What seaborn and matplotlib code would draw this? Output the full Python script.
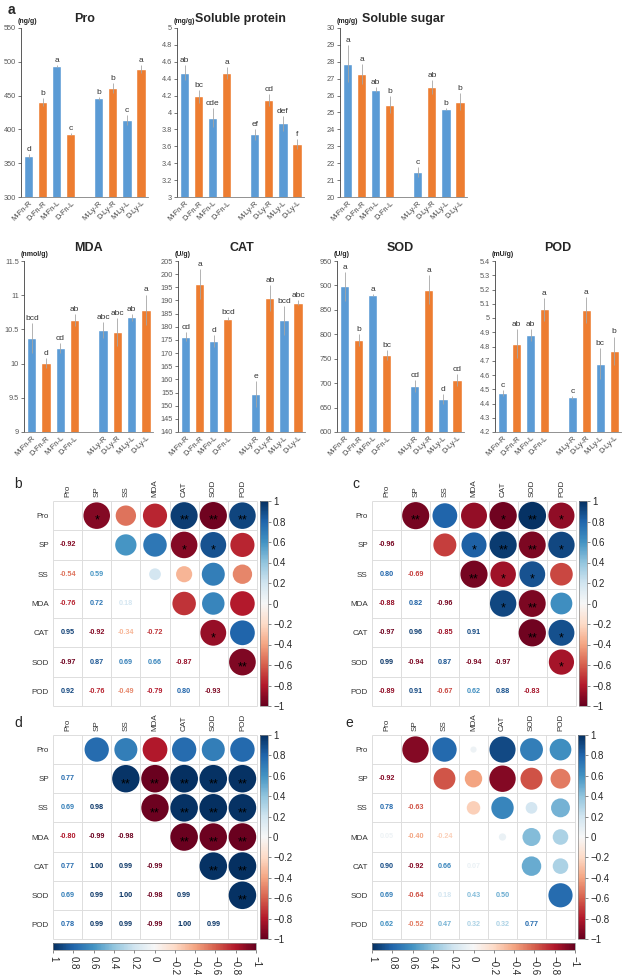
import numpy as np
import pandas as pd
import matplotlib
matplotlib.use("Agg")
import matplotlib.pyplot as plt
from matplotlib.colors import Normalize
from matplotlib.cm import ScalarMappable
import seaborn as sns

# ---------------- panel a: bar charts ----------------
groups = ["M-Fn-R", "D-Fn-R", "M-Fn-L", "D-Fn-L", "M-Ly-R", "D-Ly-R", "M-Ly-L", "D-Ly-L"]
treat = ["M", "D", "M", "D", "M", "D", "M", "D"]
slots = groups[:4] + [""] + groups[4:]

pro_mean = [360, 441, 494, 393, 446, 461, 414, 489]
pro_err = [3, 6, 1, 2, 2, 7, 8, 6]
pro_sig = ["d", "b", "a", "c", "b", "b", "c", "a"]

sp_mean = [4.47, 4.19, 3.94, 4.47, 3.74, 4.15, 3.87, 3.63]
sp_err = [0.09, 0.08, 0.11, 0.07, 0.07, 0.07, 0.09, 0.06]
sp_sig = ["ab", "bc", "cde", "a", "ef", "cd", "def", "f"]

ss_mean = [27.88, 27.28, 26.35, 25.46, 21.47, 26.5, 25.2, 25.63]
ss_err = [1.1, 0.6, 0.15, 0.5, 0.3, 0.4, 0.05, 0.5]
ss_sig = ["a", "a", "ab", "b", "c", "ab", "b", "b"]

mda_mean = [10.37, 10.01, 10.23, 10.64, 10.49, 10.46, 10.68, 10.79]
mda_err = [0.22, 0.07, 0.07, 0.09, 0.12, 0.2, 0.05, 0.22]
mda_sig = ["bcd", "d", "cd", "ab", "abc", "abc", "ab", "a"]

cat_mean = [176.3, 196.2, 174.6, 183.0, 154.3, 191.0, 182.4, 189.2]
cat_err = [1.6, 5.8, 2.2, 0.6, 4.9, 5.0, 5.5, 1.0]
cat_sig = ["cd", "a", "d", "bcd", "e", "ab", "bcd", "abc"]

sod_mean = [898, 789, 881, 757, 694, 891, 668, 706]
sod_err = [30, 12, 2, 10, 12, 30, 10, 12]
sod_sig = ["a", "b", "a", "bc", "cd", "a", "d", "cd"]

pod_mean = [4.475, 4.82, 4.88, 5.06, 4.445, 5.055, 4.68, 4.77]
pod_err = [0.02, 0.1, 0.04, 0.08, 0.01, 0.09, 0.11, 0.1]
pod_sig = ["c", "ab", "ab", "a", "c", "a", "bc", "b"]

bar_colors = {"M": "#5B9BD5", "D": "#ED7D31"}

# ---------------- panels b-e: correlations ----------------
variables = ["Pro", "SP", "SS", "MDA", "CAT", "SOD", "POD"]

corr_b = [
    [-0.92],
    [-0.54, 0.59],
    [-0.76, 0.72, 0.18],
    [0.95, -0.92, -0.34, -0.72],
    [-0.97, 0.87, 0.69, 0.66, -0.87],
    [0.92, -0.76, -0.49, -0.79, 0.80, -0.93],
]
stars_b = {(0, 1): "*", (0, 4): "**", (0, 5): "**", (0, 6): "**",
           (1, 4): "*", (1, 5): "*", (4, 5): "*", (5, 6): "**"}

corr_c = [
    [-0.96],
    [0.80, -0.69],
    [-0.88, 0.82, -0.96],
    [-0.97, 0.96, -0.85, 0.91],
    [0.99, -0.94, 0.87, -0.94, -0.97],
    [-0.89, 0.91, -0.67, 0.62, 0.88, -0.83],
]
stars_c = {(0, 1): "**", (0, 4): "*", (0, 5): "**", (0, 6): "*",
           (1, 3): "*", (1, 4): "**", (1, 5): "**", (1, 6): "*",
           (2, 3): "**", (2, 4): "*", (2, 5): "*",
           (3, 4): "*", (3, 5): "**", (4, 5): "**", (4, 6): "*", (5, 6): "*"}

corr_d = [
    [0.77],
    [0.69, 0.98],
    [-0.80, -0.99, -0.98],
    [0.77, 1.00, 0.99, -0.99],
    [0.69, 0.99, 1.00, -0.98, 0.99],
    [0.78, 0.99, 0.99, -0.99, 1.00, 0.99],
]
stars_d = {(i, j): "**" for i in range(1, 7) for j in range(i + 1, 7)}

corr_e = [
    [-0.92],
    [0.78, -0.63],
    [0.05, -0.40, -0.24],
    [0.90, -0.92, 0.66, 0.07],
    [0.69, -0.64, 0.18, 0.43, 0.50],
    [0.62, -0.52, 0.47, 0.32, 0.32, 0.77],
]
stars_e = {}

sns.set_style("ticks")
plt.rcParams["font.family"] = ["Liberation Sans", "DejaVu Sans"]

W, H = 627, 977
fig = plt.figure(figsize=(W / 100, H / 100), dpi=100)


def px_axes(left, top, right, bottom):
    return fig.add_axes([left / W, 1 - bottom / H, (right - left) / W, (bottom - top) / H])


def draw_bars(ax, mean, err, sig, title, unit, yticks, title_pad):
    df = pd.DataFrame({"group": groups, "value": mean, "treat": treat})
    sns.barplot(data=df, x="group", y="value", hue="treat", order=slots,
                hue_order=["M", "D"], palette=bar_colors, dodge=False,
                width=0.65, errorbar=None, legend=False, saturation=1, ax=ax)
    xs = [slots.index(g) for g in groups]
    ax.errorbar(xs, mean, yerr=err, fmt="none", ecolor="#A6A6A6",
                elinewidth=0.6, capsize=0)
    span = yticks[-1] - yticks[0]
    for x, m, e, s in zip(xs, mean, err, sig):
        ax.text(x, m + e + span * 0.006, s, ha="center", va="bottom",
                fontsize=6, color="#333333")
    ax.set_ylim(yticks[0], yticks[-1])
    ax.set_yticks(yticks)
    ax.set_yticklabels([f"{t:g}" for t in yticks])
    ax.set_xlim(-0.55, len(slots) - 0.5)
    ax.set_xlabel("")
    ax.set_ylabel("")
    sns.despine(ax=ax)
    ax.spines["left"].set_color("#404040")
    ax.spines["left"].set_linewidth(0.6)
    ax.spines["bottom"].set_color("#808080")
    ax.spines["bottom"].set_linewidth(0.6)
    ax.tick_params(axis="y", labelsize=5.3, length=2, width=0.5,
                   color="#404040", labelcolor="#595959", pad=1.5)
    ax.tick_params(axis="x", labelsize=5.3, length=0, labelcolor="#404040", pad=2)
    plt.setp(ax.get_xticklabels(), rotation=45, ha="right", rotation_mode="anchor")
    ax.set_title(title, fontsize=9, fontweight="bold", pad=title_pad)
    ax.text(-0.03, 1.015, unit, transform=ax.transAxes, fontsize=5,
            fontweight="bold", ha="left", va="bottom", color="#222222")


top = (28, 197)
mid = (261, 432)
draw_bars(px_axes(21, top[0], 148, top[1]), pro_mean, pro_err, pro_sig, "Pro", "(ng/g)",
          np.arange(300, 551, 50), 4)
draw_bars(px_axes(177, top[0], 304, top[1]), sp_mean, sp_err, sp_sig, "Soluble protein", "(mg/g)",
          np.round(np.arange(3, 5.01, 0.2), 1), 4)
draw_bars(px_axes(340, top[0], 467, top[1]), ss_mean, ss_err, ss_sig, "Soluble sugar", "(mg/g)",
          np.arange(20, 31, 1), 4)
draw_bars(px_axes(24, mid[0], 153, mid[1]), mda_mean, mda_err, mda_sig, "MDA", "(nmol/g)",
          np.arange(9, 11.51, 0.5), 7)
draw_bars(px_axes(178, mid[0], 305, mid[1]), cat_mean, cat_err, cat_sig, "CAT", "(U/g)",
          np.arange(140, 206, 5), 7)
draw_bars(px_axes(337, mid[0], 464, mid[1]), sod_mean, sod_err, sod_sig, "SOD", "(U/g)",
          np.arange(600, 951, 50), 7)
draw_bars(px_axes(495, mid[0], 621, mid[1]), pod_mean, pod_err, pod_sig, "POD", "(mU/g)",
          np.round(np.arange(4.2, 5.41, 0.1), 1), 7)

norm = Normalize(-1, 1)
cmap = plt.get_cmap("RdBu")
cbar_ticks = np.round(np.linspace(-1, 1, 11), 1)
cbar_labels = [f"{t:g}".replace("-", "\u2212") for t in cbar_ticks]


def draw_corr(ax, lower, stars):
    n = len(variables)
    mat = np.eye(n)
    for i, row in enumerate(lower, start=1):
        for j, v in enumerate(row):
            mat[i, j] = mat[j, i] = v
    rows, cols = np.triu_indices(n, k=1)
    df = pd.DataFrame({"col": cols + 0.5, "row": rows + 0.5, "r": mat[rows, cols]})
    df["size"] = df["r"].abs()
    cell_pt = ax.get_position().width * fig.get_figwidth() * 72 / n
    sns.scatterplot(data=df, x="col", y="row", hue="r", hue_norm=(-1, 1),
                    palette="RdBu", size="size", size_norm=(0, 1),
                    sizes=(0, (0.95 * cell_pt) ** 2), linewidth=0,
                    legend=False, ax=ax, zorder=3)
    for (i, j), s in stars.items():
        ax.text(j + 0.5, i + 0.68, s, ha="center", va="center", fontsize=9,
                color="black", zorder=4)
    for i in range(n):
        for j in range(i):
            r = mat[i, j]
            ax.text(j + 0.5, i + 0.5, f"{r:.2f}", ha="center", va="center",
                    fontsize=5.2, fontweight="bold", color=cmap(norm(r)))
    ax.hlines(np.arange(n + 1), 0, n, color="#DDDDDD", lw=0.7, clip_on=False, zorder=1)
    ax.vlines(np.arange(n + 1), 0, n, color="#DDDDDD", lw=0.7, clip_on=False, zorder=1)
    ax.set_xlim(0, n)
    ax.set_ylim(n, 0)
    for sp in ax.spines.values():
        sp.set_visible(False)
    ax.set_xticks(np.arange(n) + 0.5)
    ax.set_xticklabels(variables, rotation=90)
    ax.xaxis.tick_top()
    ax.set_yticks(np.arange(n) + 0.5)
    ax.set_yticklabels(variables)
    ax.tick_params(length=0, labelsize=5.8, labelcolor="#333333", pad=3)
    ax.set_xlabel("")
    ax.set_ylabel("")


def draw_cbar(cax, orientation="vertical"):
    sm = ScalarMappable(norm=norm, cmap=cmap)
    cb = fig.colorbar(sm, cax=cax, orientation=orientation, ticks=cbar_ticks)
    cb.outline.set_edgecolor("#888888")
    cb.outline.set_linewidth(0.5)
    if orientation == "vertical":
        cb.ax.set_yticklabels(cbar_labels)
        cb.ax.tick_params(labelsize=7, length=2, width=0.5, color="#555555", pad=2)
    else:
        cb.ax.invert_xaxis()
        cb.ax.set_xticklabels(cbar_labels)
        cb.ax.tick_params(labelsize=7, length=2, width=0.5, color="#555555", pad=2)
        plt.setp(cb.ax.get_xticklabels(), rotation=-90, ha="center", va="top")


draw_corr(px_axes(53, 501, 257, 706), corr_b, stars_b)
draw_cbar(px_axes(260, 501, 267.5, 706))
draw_corr(px_axes(372, 501, 576, 706), corr_c, stars_c)
draw_cbar(px_axes(578.5, 501, 586.5, 706))
draw_corr(px_axes(53, 735, 257, 939), corr_d, stars_d)
draw_cbar(px_axes(260, 735, 267.5, 939))
draw_cbar(px_axes(53, 943, 256, 950), "horizontal")
draw_corr(px_axes(372, 735, 575, 939), corr_e, stars_e)
draw_cbar(px_axes(577.5, 735, 585, 939))
draw_cbar(px_axes(372, 943, 575, 950), "horizontal")

fig.text(8 / W, 1 - 10 / H, "a", fontsize=10, fontweight="bold", va="center")
fig.text(14 / W, 1 - 484 / H, "b", fontsize=10, va="center")
fig.text(352 / W, 1 - 484 / H, "c", fontsize=10, va="center")
fig.text(14 / W, 1 - 723 / H, "d", fontsize=10, va="center")
fig.text(345 / W, 1 - 723 / H, "e", fontsize=10, va="center")

fig.savefig("out.png", dpi=100)
